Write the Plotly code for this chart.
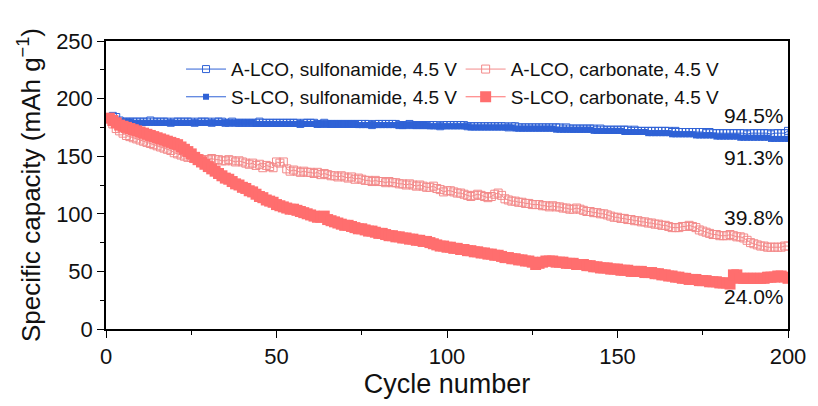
import plotly.graph_objects as go

cycles = list(range(1, 201))

a_sulf = [
    183, 185, 184, 181, 180, 180, 180, 180, 180, 180,
    180, 180, 181, 180, 180, 180, 180, 180, 179, 180,
    180, 180, 180, 180, 180, 179, 180, 180, 180, 180,
    179, 180, 180, 180, 179, 179, 180, 179, 179, 179,
    179, 179, 179, 179, 180, 179, 179, 179, 179, 179,
    179, 179, 179, 179, 179, 179, 178, 179, 179, 179,
    179, 178, 178, 179, 178, 178, 178, 178, 178, 178,
    178, 178, 178, 178, 178, 178, 178, 177, 178, 178,
    178, 178, 178, 178, 178, 177, 177, 177, 178, 177,
    177, 177, 177, 177, 177, 177, 177, 176, 177, 177,
    177, 177, 177, 177, 177, 176, 176, 176, 176, 176,
    176, 176, 176, 176, 176, 176, 176, 175, 176, 176,
    175, 175, 175, 175, 175, 175, 175, 175, 175, 175,
    175, 175, 175, 174, 175, 174, 174, 174, 174, 174,
    174, 174, 174, 173, 174, 173, 173, 173, 173, 173,
    173, 173, 173, 172, 173, 172, 172, 172, 172, 172,
    172, 172, 172, 172, 172, 171, 172, 171, 171, 171,
    171, 171, 171, 171, 171, 170, 171, 170, 170, 170,
    170, 170, 170, 170, 170, 170, 170, 169, 170, 170,
    170, 170, 170, 170, 169, 170, 170, 170, 170, 172,
]

s_sulf = [
    182, 182, 181, 180, 180, 180, 180, 179, 179, 179,
    179, 179, 179, 179, 179, 179, 179, 179, 179, 179,
    179, 179, 179, 179, 179, 179, 179, 179, 179, 179,
    179, 179, 179, 179, 179, 179, 179, 179, 179, 179,
    179, 179, 179, 178, 178, 178, 178, 178, 178, 178,
    178, 178, 178, 178, 178, 178, 178, 178, 178, 178,
    178, 178, 178, 178, 178, 178, 178, 178, 178, 178,
    178, 178, 178, 177, 177, 177, 177, 177, 177, 177,
    177, 177, 177, 177, 177, 177, 177, 177, 177, 177,
    177, 177, 177, 177, 176, 176, 176, 176, 176, 176,
    176, 176, 176, 176, 176, 176, 175, 175, 175, 175,
    175, 175, 175, 175, 175, 175, 175, 175, 175, 174,
    174, 174, 174, 174, 174, 174, 174, 174, 174, 174,
    174, 173, 173, 173, 173, 173, 173, 173, 173, 173,
    173, 173, 172, 172, 172, 172, 172, 172, 172, 172,
    172, 171, 171, 171, 171, 171, 171, 171, 170, 170,
    170, 170, 170, 170, 170, 169, 169, 169, 169, 169,
    169, 169, 168, 168, 168, 168, 168, 168, 167, 167,
    167, 167, 167, 167, 167, 166, 166, 166, 166, 166,
    166, 166, 166, 166, 165, 165, 165, 165, 165, 165,
]

a_carb = [
    183, 178, 174, 172, 170, 168, 167, 166, 165, 164,
    163, 162, 161, 160, 159, 158, 157, 156, 155, 153,
    152, 151, 150, 149, 149, 148, 148, 147, 147, 147,
    148, 147, 147, 146, 146, 147, 146, 145, 146, 145,
    144, 143, 144, 142, 143, 140, 142, 141, 140, 145,
    144, 145, 139, 137, 138, 137, 136, 137, 136, 136,
    135, 136, 134, 135, 134, 133, 133, 132, 133, 132,
    131, 132, 130, 131, 130, 129, 129, 128, 129, 128,
    128, 127, 128, 127, 127, 126, 126, 125, 126, 125,
    124, 125, 124, 123, 123, 124, 122, 121, 119, 120,
    120, 119, 118, 118, 117, 116, 115, 116, 117, 116,
    115, 114, 115, 117, 118, 116, 113, 112, 111, 111,
    110, 110, 109, 109, 108, 108, 108, 107, 107, 106,
    107, 106, 106, 105, 105, 104, 104, 105, 104, 103,
    102, 102, 101, 101, 100, 100, 99, 98, 97, 97,
    96, 96, 95, 95, 94, 94, 93, 93, 92, 92,
    91, 91, 90, 90, 89, 88, 88, 88, 89, 89,
    90, 89, 88, 86, 85, 84, 83, 82, 82, 81,
    81, 81, 82, 81, 80, 80, 79, 77, 75, 74,
    73, 72, 72, 71, 71, 71, 71, 71, 72, 72,
]

s_carb = [
    183, 181, 179, 177, 176, 175, 174, 173, 172, 171,
    170, 169, 168, 167, 166, 165, 164, 163, 162, 161,
    160, 158, 156, 154, 152, 149, 147, 145, 143, 141,
    139, 137, 135, 133, 131, 130, 128, 126, 125, 123,
    122, 120, 119, 117, 115, 114, 112, 111, 110, 108,
    107, 106, 105, 104, 104, 103, 102, 101, 100, 99,
    98, 97, 97, 98, 95, 94, 93, 92, 91, 90,
    90, 89, 88, 87, 87, 86, 85, 85, 84, 83,
    83, 82, 81, 81, 80, 80, 79, 79, 78, 78,
    77, 77, 76, 76, 75, 74, 73, 72, 72, 71,
    71, 70, 70, 69, 69, 68, 68, 67, 67, 66,
    66, 65, 65, 64, 64, 63, 62, 62, 61, 61,
    60, 60, 59, 59, 58, 56, 57, 58, 59, 59,
    59, 58, 58, 58, 57, 57, 57, 56, 56, 56,
    55, 55, 54, 54, 53, 53, 53, 52, 52, 52,
    51, 51, 51, 50, 50, 50, 50, 49, 49, 49,
    48, 48, 47, 47, 46, 46, 45, 45, 44, 44,
    43, 43, 43, 42, 42, 42, 41, 41, 41, 40,
    40, 40, 39, 47, 47, 44, 44, 44, 44, 44,
    44, 44, 44, 45, 45, 45, 46, 46, 45, 44,
]

retention_labels = ["94.5%", "91.3%", "39.8%", "24.0%"]
retention_y = [185, 149, 97, 28]

BLUE = "#2f62d6"
RED = "#ff6e6e"
RED_LIGHT = "#f38a8a"
FONT = "Liberation Sans, Arial, sans-serif"

fig = go.Figure()

fig.add_trace(go.Scatter(
    x=cycles, y=s_sulf, mode="lines+markers", name="S-LCO, sulfonamide, 4.5 V",
    line=dict(color=BLUE, width=1),
    marker=dict(symbol="square", size=6, color=BLUE, line=dict(width=0)),
    legend="legend", legendrank=2,
))
fig.add_trace(go.Scatter(
    x=cycles, y=a_sulf, mode="lines+markers", name="A-LCO, sulfonamide, 4.5 V",
    line=dict(color=BLUE, width=1),
    marker=dict(symbol="square-open", size=7, color=BLUE, line=dict(width=1)),
    legend="legend", legendrank=1,
))
fig.add_trace(go.Scatter(
    x=cycles, y=a_carb, mode="lines+markers", name="A-LCO, carbonate, 4.5 V",
    line=dict(color=RED_LIGHT, width=1),
    marker=dict(symbol="square-open", size=8, color=RED_LIGHT, line=dict(width=1)),
    legend="legend2", legendrank=1,
))
fig.add_trace(go.Scatter(
    x=cycles, y=s_carb, mode="lines+markers", name="S-LCO, carbonate, 4.5 V",
    line=dict(color=RED, width=1),
    marker=dict(symbol="square", size=11, color=RED, line=dict(width=0)),
    legend="legend2", legendrank=2,
))

for t, yv in zip(retention_labels, retention_y):
    fig.add_annotation(x=199.5, y=yv, text=t, showarrow=False, xanchor="right",
                       yanchor="middle", font=dict(size=21, color="#111", family=FONT))

minor_ticks = dict(ticks="outside", ticklen=4, tickwidth=1, tickcolor="black", dtick=25)
axis_common = dict(
    showline=True, linecolor="black", linewidth=1.5, mirror=True,
    ticks="outside", ticklen=7, tickwidth=1.2, tickcolor="black",
    showgrid=False, zeroline=False,
    tickfont=dict(size=22, color="#111", family=FONT),
    minor=minor_ticks,
)

fig.update_layout(
    width=818, height=406,
    margin=dict(l=106, r=25, t=41, b=76),
    paper_bgcolor="white", plot_bgcolor="white",
    font=dict(family=FONT, color="#111"),
    xaxis=dict(range=[0, 200], tickvals=[0, 50, 100, 150, 200],
               title=dict(text="Cycle number", font=dict(size=27, family=FONT), standoff=6),
               **axis_common),
    yaxis=dict(range=[0, 250], tickvals=[0, 50, 100, 150, 200, 250],
               title=dict(text="Specific capacity (mAh g<sup>−1</sup>)",
                          font=dict(size=26, family=FONT), standoff=8),
               **axis_common),
    legend=dict(x=0.11, y=0.968, xanchor="left", yanchor="top", bgcolor="rgba(0,0,0,0)",
                font=dict(size=19, family=FONT, color="#111"), tracegroupgap=0,
                itemwidth=40),
    legend2=dict(x=0.52, y=0.968, xanchor="left", yanchor="top", bgcolor="rgba(0,0,0,0)",
                 font=dict(size=19, family=FONT, color="#111"), tracegroupgap=0,
                 itemwidth=40),
    showlegend=True,
)

fig.write_html("out.html")
